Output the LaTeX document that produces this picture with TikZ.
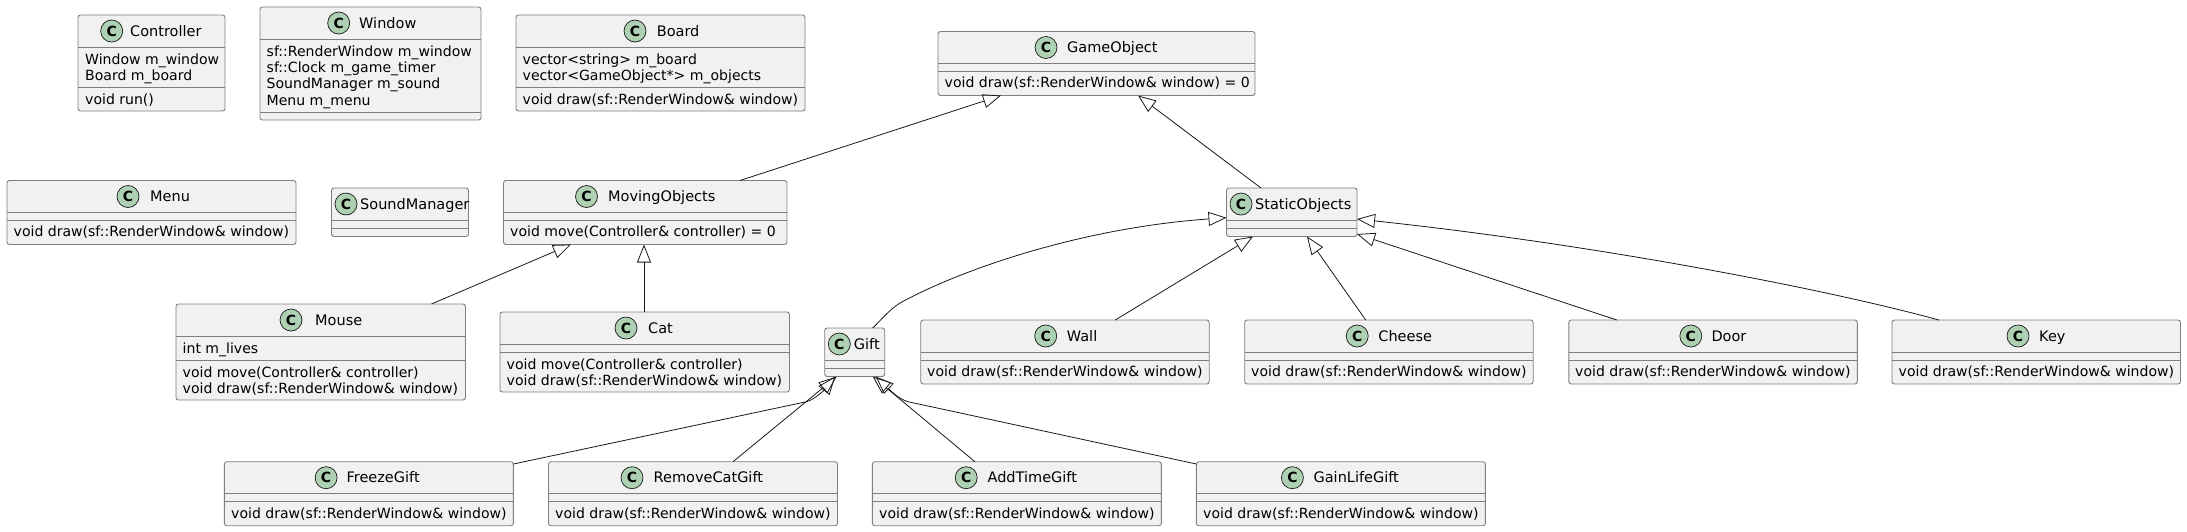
\documentclass[tikz,border=0pt]{standalone}
\usepackage{fontspec}
\setmainfont{DejaVu Sans}
\usetikzlibrary{arrows.meta}
\definecolor{myFill}{HTML}{F1F1F1}
\definecolor{myLine}{HTML}{7F7F7F}
\definecolor{mySpot}{HTML}{ADD1B2}
\definecolor{myEdge}{HTML}{181818}
\tikzset{x=1pt,y=-1pt
, myText/.style={inner sep=0pt,anchor=base west,font=\fontsize{14.05}{16}\selectfont,text=black}
, myName/.style={myText,font=\fontsize{14.5}{16}\selectfont}
, myBox/.style={draw=myLine,fill=myFill,line width=0.9pt,rounded corners=2.5pt,outer sep=0pt,inner sep=0pt}
, mySep/.style={draw=myLine,line width=0.9pt}
, mySpotC/.style={circle,draw=myEdge,fill=mySpot,line width=0.7pt,minimum size=22pt,inner sep=0pt,font=\fontsize{14}{14}\bfseries\selectfont}
, myExt/.style={draw=myEdge,line width=0.8pt,-{Triangle[open,length=18pt,width=14pt]}}
}
% x y w h line2 spot-x name-x name
\newcommand{\myClass}[8]{%
	\node[myBox,minimum width=#3pt,minimum height=#4pt,anchor=north west] (#8) at (#1,#2) {};
	\draw[mySep] (#1,#2+32) -- +(#3,0);
	\draw[mySep] (#1,#2+#5) -- +(#3,0);
	\node[mySpotC] (#8Spot) at (#1+#6,#2+16) {C};
	\node[myName] (#8Name) at (#1+#7,#2+21) {#8};
}
\begin{document}
\begin{tikzpicture}
	\useasboundingbox (0,0) rectangle (2187,531);
	% classes
	\myClass{78}{15}{147}{96}{72.5}{33.7}{52}{Controller}
	\node[myText] (ControllerA) at (85,64) {Window m\_window};
	\node[myText] (ControllerB) at (85,80) {Board m\_board};
	\node[myText] (ControllerC) at (85,104) {void run()};
	\myClass{260}{7}{221}{113}{105}{78.7}{99}{Window}
	\node[myText] (WindowA) at (266.5,56) {sf::RenderWindow m\_window};
	\node[myText] (WindowB) at (266.5,72) {sf::Clock m\_game\_timer};
	\node[myText] (WindowC) at (266.5,88.5) {SoundManager m\_sound};
	\node[myText] (WindowD) at (266.5,105) {Menu m\_menu};
	\myClass{516}{15}{289}{96}{72.5}{119}{140.6}{Board}
	\node[myText] (BoardA) at (522.5,64) {vector<string> m\_board};
	\node[myText] (BoardB) at (522.5,80) {vector<GameObject*> m\_objects};
	\node[myText] (BoardC) at (522.5,104) {void draw(sf::RenderWindow\& window)};
	\myClass{938}{31.5}{317}{64}{40}{108}{129}{GameObject}
	\node[myText] (GameObjectA) at (944.5,87.5) {void draw(sf::RenderWindow\& window) = 0};
	\myClass{7}{180.5}{289}{64}{40}{121}{143}{Menu}
	\node[myText] (MenuA) at (13.5,236.5) {void draw(sf::RenderWindow\& window)};
	\myClass{331.5}{188}{137}{48.5}{40}{14.5}{28.5}{SoundManager}
	\myClass{503.5}{180.5}{283.5}{64}{40}{83}{104.5}{MovingObjects}
	\node[myText] (MovingObjectsA) at (510,236.5) {void move(Controller\& controller) = 0};
	\myClass{1226.5}{188}{130.5}{48.5}{40}{14.5}{28.5}{StaticObjects}
	\myClass{176}{304}{289.5}{96}{56}{115}{139}{Mouse}
	\node[myText] (MouseA) at (182.5,353) {int m\_lives};
	\node[myText] (MouseB) at (182.5,377) {void move(Controller\& controller)};
	\node[myText] (MouseC) at (182.5,393) {void draw(sf::RenderWindow\& window)};
	\myClass{500}{312}{289.5}{80}{40}{126}{148}{Cat}
	\node[myText] (CatA) at (506.5,369) {void move(Controller\& controller)};
	\node[myText] (CatB) at (506.5,385) {void draw(sf::RenderWindow\& window)};
	\myClass{824.7}{328}{60}{48.5}{40}{14.6}{29}{Gift}
	\myClass{920.7}{320}{288.5}{64}{40}{125}{146}{Wall}
	\node[myText] (WallA) at (927,376) {void draw(sf::RenderWindow\& window)};
	\myClass{1244.7}{320}{288.5}{64}{40}{112.5}{133.5}{Cheese}
	\node[myText] (CheeseA) at (1251,376) {void draw(sf::RenderWindow\& window)};
	\myClass{1568.8}{320}{288.5}{64}{40}{122}{142.5}{Door}
	\node[myText] (DoorA) at (1575,376) {void draw(sf::RenderWindow\& window)};
	\myClass{1892}{320}{288.5}{64}{40}{126}{147}{Key}
	\node[myText] (KeyA) at (1898.5,376) {void draw(sf::RenderWindow\& window)};
	\myClass{224.4}{461.7}{289}{64}{40}{101.7}{122}{FreezeGift}
	\node[myText] (FreezeGiftA) at (231,518) {void draw(sf::RenderWindow\& window)};
	\myClass{548.5}{461.7}{289}{64}{40}{83.5}{105}{RemoveCatGift}
	\node[myText] (RemoveCatGiftA) at (555,518) {void draw(sf::RenderWindow\& window)};
	\myClass{872.4}{461.7}{289}{64}{40}{93.8}{115}{AddTimeGift}
	\node[myText] (AddTimeGiftA) at (879,518) {void draw(sf::RenderWindow\& window)};
	\myClass{1196.4}{461.7}{289}{64}{40}{96}{117}{GainLifeGift}
	\node[myText] (GainLifeGiftA) at (1203,518) {void draw(sf::RenderWindow\& window)};
	% links
	\draw[myExt] ([xshift=236.5pt]MovingObjects.north west) -- ([xshift=63pt]GameObject.south west);
	\draw[myExt] ([xshift=34.5pt]StaticObjects.north west) -- ([xshift=200pt]GameObject.south west);
	\draw[myExt] ([xshift=255.5pt]Mouse.north west) -- ([xshift=67.5pt]MovingObjects.south west);
	\draw[myExt] ([xshift=144pt]Cat.north west) -- ([xshift=140.5pt]MovingObjects.south west);
	\draw[myExt] ([xshift=48pt]Gift.north west) .. controls (881,320) and (889,310) .. (900,303) .. controls (960,270) and (1080,228) .. ([yshift=-29.7pt]StaticObjects.north west);
	\draw[myExt] ([xshift=194.5pt]Wall.north west) -- ([xshift=26.5pt]StaticObjects.south west);
	\draw[myExt] ([xshift=121pt]Cheese.north west) -- ([xshift=80.5pt]StaticObjects.south west);
	\draw[myExt] ([xshift=48pt]Door.north west) -- ([yshift=2.5pt]StaticObjects.south east);
	\draw[myExt] ([xshift=46.8pt]Key.north west) .. controls (1830,290) and (1600,245) .. ([yshift=-31pt]StaticObjects.north east);
	\draw[myExt] ([yshift=-2.3pt]FreezeGift.north east) -- (806.5,401.7) .. controls (816,399) and (826,388) .. ([xshift=10.5pt]Gift.south west);
	\draw[myExt] ([xshift=184.5pt]RemoveCatGift.north west) -- ([xshift=12pt]Gift.south west);
	\draw[myExt] ([xshift=102.5pt]AddTimeGift.north west) -- ([xshift=-12pt]Gift.south east);
	\draw[myExt] ([yshift=-2.3pt]GainLifeGift.north west) -- (908,401.7) .. controls (898,399) and (888,388) .. ([xshift=-9pt]Gift.south east);
\end{tikzpicture}
\end{document}
